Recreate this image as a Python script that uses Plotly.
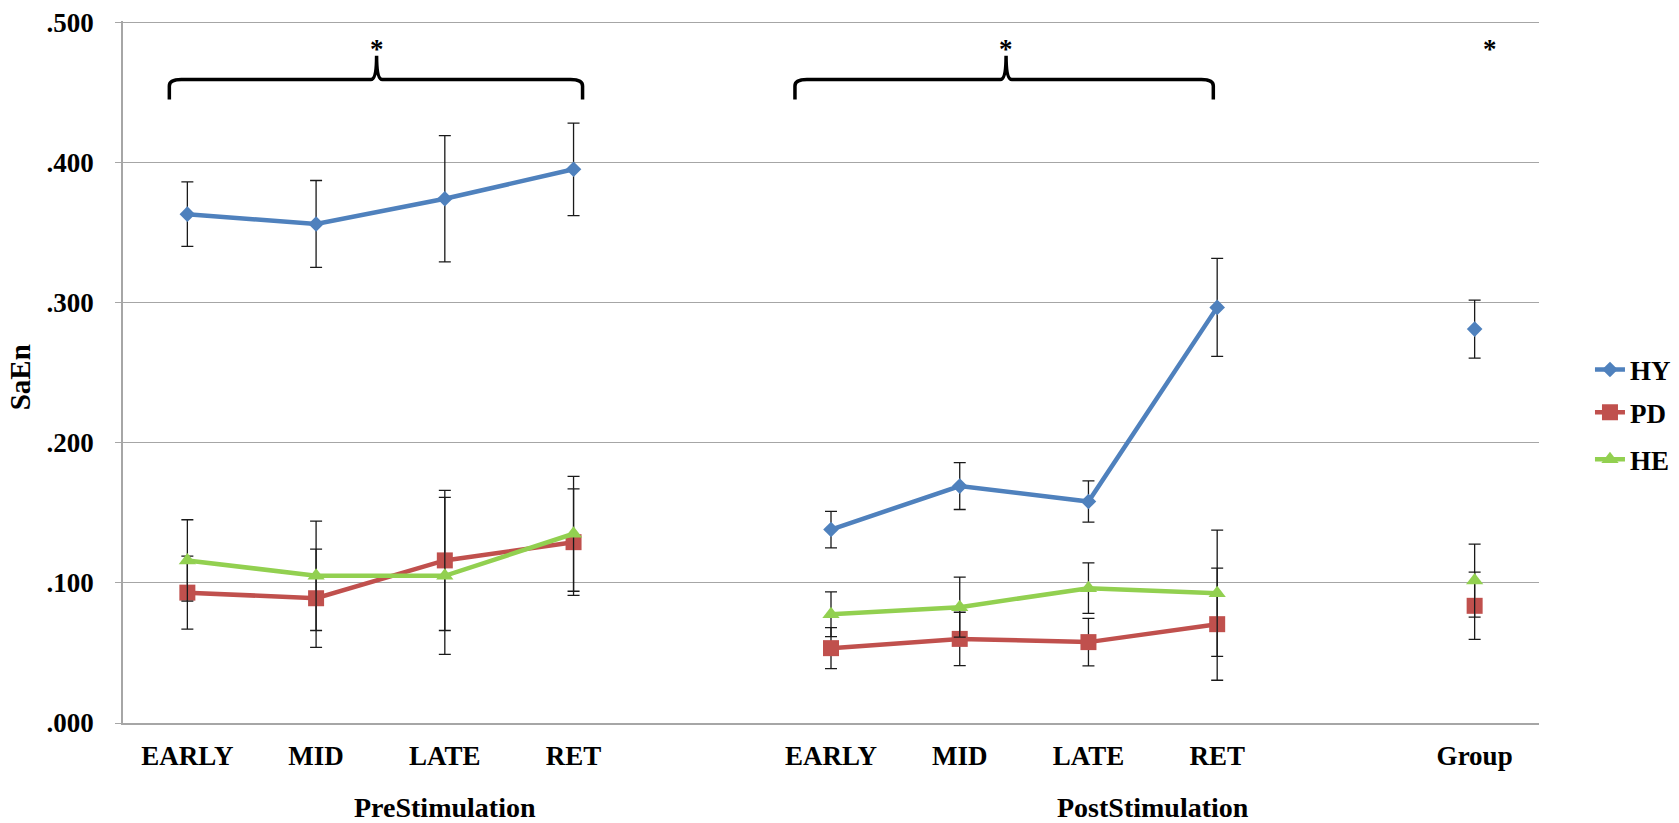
import plotly.graph_objects as go

# ---------------- data ----------------
categories = ["EARLY", "MID", "LATE", "RET", "", "EARLY", "MID", "LATE", "RET", "", "Group"]
x_index = list(range(len(categories)))

HY = [0.363, 0.356, 0.374, 0.395, None, 0.138, 0.169, 0.158, 0.2965, None, 0.281]
HY_err = [0.023, 0.031, 0.045, 0.033, None, 0.013, 0.0167, 0.0147, 0.035, None, 0.0207]

PD = [0.093, 0.089, 0.116, 0.129, None, 0.0534, 0.060, 0.0577, 0.0705, None, 0.0836]
PD_err = [0.026, 0.035, 0.050, 0.038, None, 0.0146, 0.019, 0.017, 0.040, None, 0.024]

HE = [0.116, 0.105, 0.105, 0.135, None, 0.0776, 0.0826, 0.0962, 0.0926, None, 0.1016]
HE_err = [0.029, 0.039, 0.056, 0.041, None, 0.016, 0.0214, 0.018, 0.045, None, 0.026]

y_tickvals = [0.0, 0.1, 0.2, 0.3, 0.4, 0.5]
y_ticktext = [".000", ".100", ".200", ".300", ".400", ".500"]

group_labels = ["PreStimulation", "PostStimulation"]
group_centers = [2.0, 7.5]

# brace spans (x start, x end, x tip) in category-index units
brace_spans = [(-0.14, 3.07, 1.47), (4.72, 7.97, 6.36)]
star_x = [1.47, 6.36, 10.12]

# ---------------- styling ----------------
FONT = "Liberation Serif, Times New Roman, serif"
series = [
    ("HY", HY, HY_err, "#4F81BD", "diamond", 12),
    ("PD", PD, PD_err, "#C0504D", "square", 16),
    ("HE", HE, HE_err, "#92D050", "triangle-up", 15),
]
legend_names = ["legend", "legend2", "legend3"]
legend_y = [0.503, 0.442, 0.375]

fig = go.Figure()
for (name, vals, errs, color, sym, msize), lg in zip(series, legend_names):
    fig.add_trace(go.Scatter(
        x=x_index, y=vals, name=name, mode="lines+markers",
        connectgaps=False,
        line=dict(color=color, width=4.5),
        marker=dict(symbol=sym, size=msize, color=color),
        error_y=dict(type="data", array=errs, visible=True,
                     color="#1a1a1a", thickness=1.3, width=6),
        legend=lg,
    ))

tick_idx = [i for i, c in enumerate(categories) if c]
tick_txt = [categories[i] for i in tick_idx]

layout_legends = {}
for lg, ly in zip(legend_names, legend_y):
    layout_legends[lg] = dict(
        x=1.036, y=ly, xanchor="left", yanchor="middle",
        font=dict(family=FONT, size=27, color="black", weight="bold"),
        bgcolor="rgba(0,0,0,0)", borderwidth=0, itemwidth=30,
    )

fig.update_layout(
    width=1679, height=823,
    margin=dict(l=123, r=140, t=21, b=100, autoexpand=False),
    paper_bgcolor="white", plot_bgcolor="white",
    font=dict(family=FONT, size=27, color="black", weight="bold"),
    showlegend=True,
    **layout_legends,
)

fig.update_xaxes(
    range=[-0.5, 10.5], automargin=False,
    tickmode="array", tickvals=tick_idx, ticktext=tick_txt,
    showgrid=False, zeroline=False,
    showline=True, linecolor="#A6A6A6", linewidth=1.5,
    ticks="", ticklabelstandoff=8,
    tickfont=dict(family=FONT, size=27, color="black", weight="bold"),
)
fig.update_yaxes(
    range=[0, 0.5008], automargin=False,
    tickmode="array", tickvals=y_tickvals, ticktext=y_ticktext,
    showgrid=True, gridcolor="#A6A6A6", gridwidth=1,
    zeroline=False,
    showline=True, linecolor="#A6A6A6", linewidth=1.5,
    ticks="outside", ticklen=6, tickcolor="#A6A6A6",
    ticklabelstandoff=16,
    tickfont=dict(family=FONT, size=27, color="black", weight="bold"),
)

# y-axis title
fig.add_annotation(
    text="SaEn", xref="paper", yref="paper", x=-0.0725, y=0.493,
    xanchor="center", yanchor="middle", textangle=-90, showarrow=False,
    font=dict(family=FONT, size=29, color="black", weight="bold"),
)

# group labels
for lab, cx in zip(group_labels, group_centers):
    fig.add_annotation(
        text=lab, xref="x", yref="paper", x=cx, y=-0.121,
        xanchor="center", yanchor="middle", showarrow=False,
        font=dict(family=FONT, size=28, color="black", weight="bold"),
    )

# braces
yb, yh, yt = 0.4448, 0.459, 0.476
dx, dy, tw = 0.093, 0.0045, 0.045
for x0, x1, xc in brace_spans:
    path = (
        f"M {x0},{yb} L {x0},{yh - dy} Q {x0},{yh} {x0 + dx},{yh} "
        f"L {xc - tw},{yh} Q {xc},{yh} {xc},{yt} "
        f"Q {xc},{yh} {xc + tw},{yh} "
        f"L {x1 - dx},{yh} Q {x1},{yh} {x1},{yh - dy} L {x1},{yb}"
    )
    fig.add_shape(type="path", path=path, xref="x", yref="y",
                  line=dict(color="black", width=3.5))

# asterisks
for sx in star_x:
    fig.add_annotation(
        text="*", xref="x", yref="y", x=sx, y=0.481,
        xanchor="center", yanchor="middle", showarrow=False,
        font=dict(family=FONT, size=27, color="black", weight="bold"),
    )

fig.write_html("out.html")
